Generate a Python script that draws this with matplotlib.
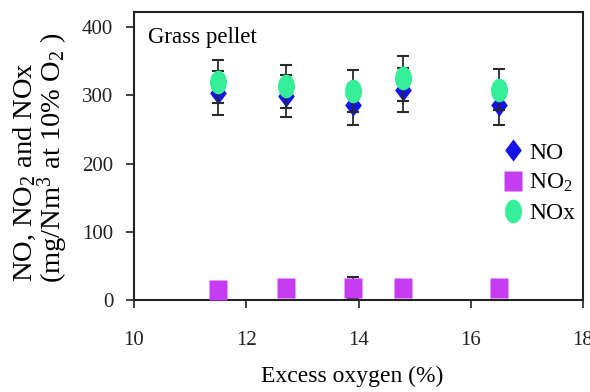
import matplotlib
matplotlib.use('Agg')
import matplotlib.pyplot as plt
from matplotlib.path import Path

plt.rcParams['font.family'] = ['Liberation Serif', 'DejaVu Serif']
plt.rcParams['mathtext.default'] = 'regular'

# data
excess_o2 = [11.5, 12.7, 13.9, 14.8, 16.5]
no_vals = [303, 299, 286, 308, 286]
no_err = [32, 31, 30, 32, 30]
no2_vals = [14, 17, 18, 17, 17]
no2_err = [0, 0, 16, 0, 0]
nox_vals = [320, 313, 306, 325, 308]
nox_err = [31, 32, 31, 33, 30]

# slightly tall markers, like the stretched original
diamond = Path([(0, 1), (0.75, 0), (0, -1), (-0.75, 0), (0, 1)])
rect = Path([(-0.85, -1), (0.85, -1), (0.85, 1), (-0.85, 1), (-0.85, -1)])
ellipse = Path.unit_circle().transformed(
    matplotlib.transforms.Affine2D().scale(0.72, 1.0))

fig = plt.figure(figsize=(5.9, 3.92), dpi=100)
ax = fig.add_axes([134/590, 1-300/392, 449/590, 288/392])

ecol = '#2a2a2a'
ax.errorbar(excess_o2, no2_vals, yerr=no2_err, fmt='none', ecolor=ecol,
            capsize=4.5, elinewidth=1.3, capthick=1.5, zorder=2)
ax.plot(excess_o2, no2_vals, linestyle='none', marker=rect, ms=14.5,
        color='#C63CF2', mec='none', label='NO$_2$', zorder=3)

ax.errorbar(excess_o2, no_vals, yerr=no_err, fmt='none', ecolor=ecol,
            capsize=4.5, elinewidth=1.3, capthick=1.5, zorder=2)
ax.plot(excess_o2, no_vals, linestyle='none', marker=diamond, ms=16,
        color='#1414E6', mec='none', label='NO', zorder=3)

ax.errorbar(excess_o2, nox_vals, yerr=nox_err, fmt='none', ecolor=ecol,
            capsize=4.5, elinewidth=1.3, capthick=1.5, zorder=4)
ax.plot(excess_o2, nox_vals, linestyle='none', marker=ellipse, ms=17,
        color='#35EE98', mec='none', label='NOx', zorder=5)

ax.set_xlim(10, 18)
ax.set_ylim(0, 422)
ax.set_xticks([10, 12, 14, 16, 18])
ax.set_yticks([0, 100, 200, 300, 400])
ax.tick_params(axis='both', direction='out', length=6, width=1.2,
               colors='#222222', labelsize=15)
ax.tick_params(axis='x', pad=16)
ax.tick_params(axis='y', pad=9)
for s in ax.spines.values():
    s.set_linewidth(1.5)
    s.set_color('#222222')

ax.text(0.031, 0.913, 'Grass pellet', transform=ax.transAxes,
        fontsize=16.5, va='center', ha='left')

h, l = ax.get_legend_handles_labels()
order = [1, 0, 2]
ax.legend([h[i] for i in order], [l[i] for i in order], loc='center left',
          bbox_to_anchor=(0.823, 0.406), frameon=False, fontsize=17,
          handlelength=0.8, handletextpad=0.3, borderpad=0, borderaxespad=0,
          labelspacing=0.35)

fig.text(352/590, 1-376/392, 'Excess oxygen (%)', fontsize=17,
         ha='center', va='center')
fig.text(25/590, 1-172/392, 'NO, NO$_2$ and NOx', fontsize=20.5,
         rotation=90, ha='center', va='center')
fig.text(53/590, 1-158/392, '(mg/Nm$^3$ at 10% O$_2$ )', fontsize=20.5,
         rotation=90, ha='center', va='center')

plt.savefig('out.png', dpi=100)
